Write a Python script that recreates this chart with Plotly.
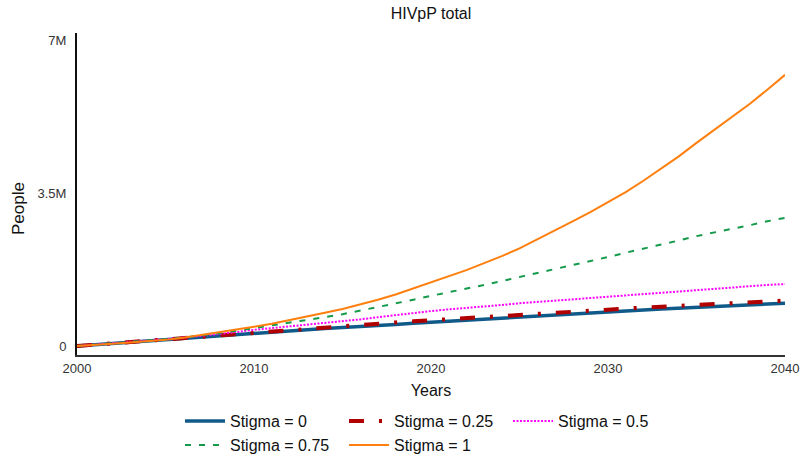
import plotly.graph_objects as go

# Simulated HIV-positive population by stigma scenario (millions of people)
years = list(range(2000, 2041))

stigma_0 = [0.00, 0.03, 0.06, 0.09, 0.12, 0.15, 0.18, 0.21, 0.24, 0.27,
            0.30, 0.325, 0.35, 0.375, 0.40, 0.42, 0.445, 0.47, 0.495, 0.52,
            0.545, 0.57, 0.595, 0.62, 0.645, 0.67, 0.694, 0.718, 0.742, 0.766,
            0.79, 0.809, 0.828, 0.847, 0.866, 0.885, 0.904, 0.923, 0.942, 0.961,
            0.98]
stigma_025 = [0.00, 0.03, 0.06, 0.09, 0.125, 0.16, 0.19, 0.225, 0.26, 0.29,
              0.32, 0.35, 0.38, 0.41, 0.44, 0.46, 0.487, 0.513, 0.54, 0.566,
              0.592, 0.618, 0.644, 0.669, 0.695, 0.72, 0.745, 0.769, 0.794, 0.818,
              0.842, 0.862, 0.882, 0.902, 0.922, 0.942, 0.961, 0.981, 1.00, 1.02,
              1.04]
stigma_05 = [0.00, 0.03, 0.06, 0.09, 0.12, 0.15, 0.19, 0.23, 0.27, 0.32,
             0.37, 0.41, 0.45, 0.49, 0.53, 0.56, 0.61, 0.66, 0.71, 0.75,
             0.80, 0.84, 0.87, 0.91, 0.94, 0.98, 1.01, 1.04, 1.08, 1.11,
             1.14, 1.17, 1.20, 1.23, 1.26, 1.29, 1.32, 1.34, 1.37, 1.40,
             1.42]
stigma_075 = [0.00, 0.03, 0.06, 0.09, 0.12, 0.15, 0.19, 0.24, 0.29, 0.35,
              0.41, 0.47, 0.53, 0.59, 0.66, 0.73, 0.81, 0.89, 0.98, 1.06,
              1.15, 1.23, 1.32, 1.40, 1.49, 1.58, 1.67, 1.76, 1.85, 1.95,
              2.04, 2.14, 2.23, 2.33, 2.42, 2.52, 2.60, 2.69, 2.77, 2.86,
              2.94]
stigma_1 = [0.00, 0.02, 0.05, 0.08, 0.11, 0.14, 0.19, 0.25, 0.31, 0.37,
            0.44, 0.51, 0.59, 0.67, 0.76, 0.85, 0.95, 1.06, 1.18, 1.32,
            1.46, 1.60, 1.74, 1.90, 2.06, 2.24, 2.44, 2.65, 2.86, 3.07,
            3.30, 3.53, 3.79, 4.06, 4.35, 4.66, 4.96, 5.24, 5.55, 5.88,
            6.22]

y_tick_vals = [0, 3.5e6, 7e6]
y_tick_text = ["0", "3.5M", "7M"]
x_tick_vals = [2000, 2010, 2020, 2030, 2040]

series = [
    ("Stigma = 0", stigma_0, dict(color="#105a8a", width=3.5), "legend"),
    ("Stigma = 0.25", stigma_025, dict(color="#b00000", width=4, dash="15px,15px,3px,15px"), "legend"),
    ("Stigma = 0.5", stigma_05, dict(color="#ff00ff", width=2, dash="2px,1.5px"), "legend"),
    ("Stigma = 0.75", stigma_075, dict(color="#149a4a", width=2, dash="6px,8px"), "legend2"),
    ("Stigma = 1", stigma_1, dict(color="#ff7f0e", width=2), "legend2"),
]

fig = go.Figure()
for name, vals, line, leg in series:
    fig.add_trace(go.Scatter(
        x=years, y=[v * 1e6 for v in vals], mode="lines", name=name,
        line=line, legend=leg,
    ))

font_family = "Liberation Sans, Arial, sans-serif"
legend_common = dict(
    orientation="h", xref="container", yref="container",
    xanchor="left", yanchor="middle", x=180 / 801,
    font=dict(size=16, color="#111", family=font_family),
    entrywidth=109, itemwidth=40, bgcolor="rgba(0,0,0,0)",
)

fig.update_layout(
    width=801, height=461,
    margin=dict(l=77, r=16, t=33, b=106, autoexpand=False),
    paper_bgcolor="white", plot_bgcolor="white",
    font=dict(family=font_family, color="#222"),
    title=dict(text="HIVpP total", x=0.5, xref="paper", xanchor="center",
               y=1 - 13 / 461, yref="container", yanchor="middle",
               font=dict(size=16, color="#111")),
    legend=dict(y=1 - 421 / 461, **legend_common),
    legend2=dict(y=1 - 445 / 461, **legend_common),
    xaxis=dict(
        range=[2000, 2040], tickvals=x_tick_vals, showgrid=False, zeroline=False,
        showline=True, linecolor="#333", linewidth=2, ticks="", automargin=False,
        tickfont=dict(size=13, color="#333"),
        title=dict(text="Years", font=dict(size=16, color="#111"), standoff=10),
    ),
    yaxis=dict(
        range=[-0.207e6, 7.18e6], tickvals=y_tick_vals, ticktext=y_tick_text,
        showgrid=False, zeroline=False, showline=True, linecolor="#111",
        linewidth=2, ticks="", ticklabelstandoff=6, automargin=False,
        tickfont=dict(size=13, color="#333"),
    ),
    annotations=[dict(
        text="People", textangle=-90, showarrow=False,
        xref="paper", yref="paper", x=-77 / 708 + 19 / 708, y=(355 - 209) / 322,
        xanchor="center", yanchor="middle",
        font=dict(size=17, color="#111", family=font_family),
    )],
)

fig.write_html("out.html")
